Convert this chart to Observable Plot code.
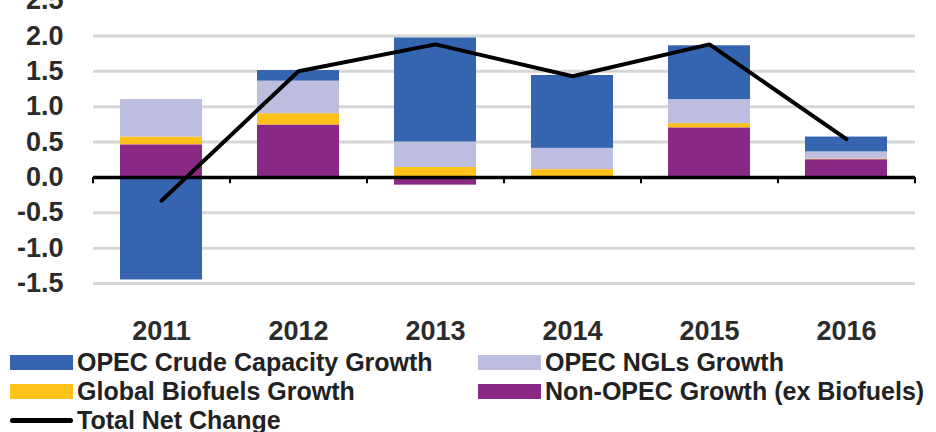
<!DOCTYPE html>
<html><head><meta charset="utf-8">
<script src="https://cdn.jsdelivr.net/npm/d3@7"></script>
<script src="https://cdn.jsdelivr.net/npm/@observablehq/plot@0.6"></script>
<style>
body{margin:0;background:#fff;width:936px;height:432px;overflow:hidden;}
#chart svg{display:block;overflow:visible;}
#legend{margin-top:3px;padding-left:10px;font-family:"Liberation Sans",Arial,sans-serif;font-weight:bold;font-size:25px;color:#222;display:grid;grid-template-columns:468px auto;white-space:nowrap;}
.item{display:flex;align-items:center;height:29px;}
.sw{width:63px;height:15px;margin-right:4px;flex:none;}
.ln{width:63px;height:5px;margin-right:4px;background:#000;flex:none;border-radius:2.5px;}
</style></head><body><div id="chart"></div><div id="legend"></div>
<script>
const years = ["2011", "2012", "2013", "2014", "2015", "2016"];
const seriesNames = ["OPEC Crude Capacity Growth", "OPEC NGLs Growth", "Global Biofuels Growth", "Non-OPEC Growth (ex Biofuels)"];
const seriesColors = ["#3565b0", "#bdbde0", "#fec21b", "#8a2886"];
const opecCrude = [-1.45, 0.15, 1.47, 1.03, 0.76, 0.21];
const opecNGLs  = [0.53, 0.46, 0.36, 0.30, 0.34, 0.10];
const biofuels  = [0.11, 0.16, 0.14, 0.11, 0.06, 0.01];
const nonOpec   = [0.46, 0.74, -0.11, 0.00, 0.70, 0.25];
const totalNet  = [-0.33, 1.50, 1.88, 1.43, 1.88, 0.54];
const totalLabel = "Total Net Change";
const yTicks = [-1.5, -1.0, -0.5, 0.0, 0.5, 1.0, 1.5, 2.0, 2.5];
const gridTicks = [-1.5, -1.0, -0.5, 0.5, 1.0, 1.5, 2.0];

// stacking order bottom -> top
const stackOrder = [[nonOpec, 3], [biofuels, 2], [opecNGLs, 1], [opecCrude, 0]];
const rows = [];
for (const [vals, si] of stackOrder) years.forEach((y, i) => rows.push({year: y, series: seriesNames[si], value: vals[i]}));
const totals = years.map((y, i) => ({year: y, value: totalNet[i]}));

const W = 936, H = 345, ML = 93, MR = 21;
const step = (W - ML - MR) / 6;
const font = "'Liberation Sans', Arial, sans-serif";

const plot = Plot.plot({
  width: W, height: H,
  marginLeft: ML, marginRight: MR, marginTop: 0, marginBottom: 62,
  style: {fontFamily: font, fontWeight: "bold", fontSize: "27px", color: "#2b2b2b", background: "#fff"},
  x: {domain: years, paddingInner: 0.4, paddingOuter: 0.2, axis: null, label: null},
  y: {domain: [-1.5, 2.5], axis: null, label: null},
  color: {domain: seriesNames, range: seriesColors},
  marks: [
    Plot.ruleY(gridTicks, {stroke: "#d6d6d6", strokeWidth: 3}),
    Plot.barY(rows, {x: "year", y: "value", fill: "series"}),
    Plot.ruleY([0], {stroke: "#000", strokeWidth: 3.5}),
    Plot.ruleX(years, {x: d => d, y1: 0, y2: -0.09, dx: -step / 2, stroke: "#000", strokeWidth: 2}),
    Plot.ruleX(years.slice(-1), {x: d => d, y1: 0, y2: -0.09, dx: step / 2, stroke: "#000", strokeWidth: 2}),
    Plot.lineY(totals, {x: "year", y: "value", stroke: "#000", strokeWidth: 4, strokeLinejoin: "miter"}),
    Plot.axisY({ticks: yTicks, tickFormat: d => d.toFixed(1), tickSize: 0, tickPadding: 30, label: null, fontSize: 27, fontWeight: "bold", fill: "#2b2b2b"}),
    Plot.axisX({tickSize: 0, tickPadding: 37, label: null, fontSize: 27, fontWeight: "bold", fill: "#2b2b2b"})
  ]
});
document.getElementById("chart").appendChild(plot);

const legend = document.getElementById("legend");
for (const si of [0, 1, 2, 3]) {
  const it = document.createElement("div"); it.className = "item";
  const sw = document.createElement("span"); sw.className = "sw"; sw.style.background = seriesColors[si];
  const tx = document.createElement("span"); tx.textContent = seriesNames[si];
  it.appendChild(sw); it.appendChild(tx); legend.appendChild(it);
}
const it = document.createElement("div"); it.className = "item";
const ln = document.createElement("span"); ln.className = "ln";
const tx = document.createElement("span"); tx.textContent = totalLabel;
it.appendChild(ln); it.appendChild(tx); legend.appendChild(it);
</script></body></html>
